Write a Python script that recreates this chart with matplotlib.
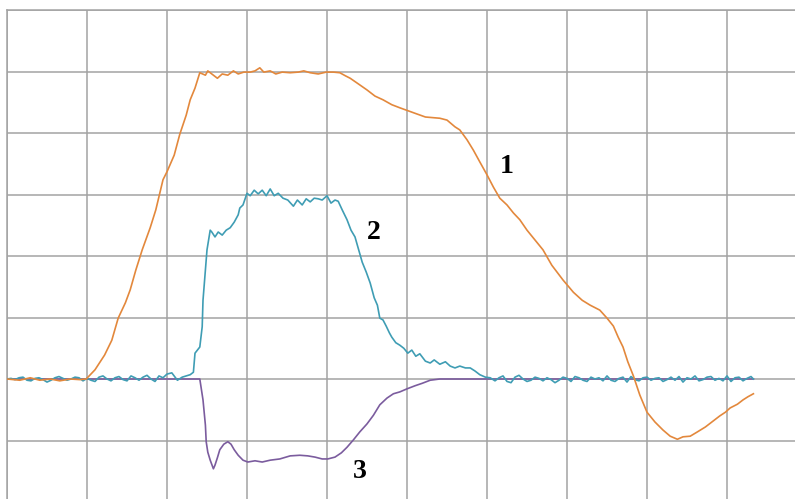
import matplotlib
matplotlib.use("Agg")
import matplotlib.pyplot as plt

# ---- data (grid units: x = time divisions, y = amplitude divisions) ----
x1 = [0.00, 0.16, 0.29, 0.41, 0.54, 0.66, 0.79, 0.91, 0.99, 1.10, 1.22, 1.31, 1.39, 1.48, 1.54,
      1.61, 1.69, 1.79, 1.86, 1.95, 2.00, 2.09, 2.16, 2.24, 2.29, 2.35, 2.41, 2.48, 2.51, 2.56,
      2.63, 2.69, 2.76, 2.83, 2.89, 2.96, 3.04, 3.10, 3.16, 3.21, 3.29, 3.36, 3.44, 3.54, 3.64,
      3.71, 3.79, 3.89, 3.99, 4.08, 4.16, 4.23, 4.29, 4.39, 4.50, 4.60, 4.70, 4.81, 4.91, 5.08,
      5.23, 5.41, 5.50, 5.60, 5.66, 5.75, 5.83, 5.91, 6.00, 6.08, 6.16, 6.25, 6.33, 6.41, 6.50,
      6.60, 6.70, 6.81, 6.95, 7.08, 7.19, 7.29, 7.41, 7.50, 7.58, 7.64, 7.70, 7.76, 7.83, 7.91,
      8.00, 8.10, 8.20, 8.29, 8.38, 8.45, 8.54, 8.63, 8.73, 8.83, 8.91, 8.98, 9.04, 9.13, 9.20,
      9.26, 9.33]
y1 = [0.00, -0.02, 0.02, -0.02, 0.00, -0.03, 0.00, -0.01, 0.00, 0.15, 0.39, 0.63, 0.99, 1.24, 1.45,
      1.77, 2.10, 2.46, 2.75, 3.24, 3.37, 3.64, 3.98, 4.29, 4.54, 4.73, 4.98, 4.94, 5.01, 4.96,
      4.89, 4.96, 4.94, 5.01, 4.96, 4.99, 4.99, 5.01, 5.06, 4.99, 5.01, 4.96, 4.99, 4.98, 4.99,
      5.01, 4.98, 4.96, 4.99, 4.99, 4.98, 4.93, 4.89, 4.80, 4.70, 4.60, 4.54, 4.46, 4.41, 4.33,
      4.26, 4.24, 4.21, 4.10, 4.05, 3.89, 3.72, 3.53, 3.32, 3.12, 2.94, 2.83, 2.70, 2.59, 2.42,
      2.26, 2.10, 1.85, 1.61, 1.41, 1.28, 1.20, 1.12, 0.99, 0.86, 0.68, 0.52, 0.28, 0.05, -0.26,
      -0.54, -0.70, -0.83, -0.93, -0.98, -0.94, -0.93, -0.86, -0.78, -0.68, -0.60, -0.54, -0.47, -0.41, -0.34,
      -0.29, -0.24]

x2 = [0.00, 0.05, 0.10, 0.15, 0.20, 0.25, 0.30, 0.35, 0.40, 0.45, 0.50, 0.55, 0.60, 0.65, 0.70,
      0.75, 0.80, 0.85, 0.90, 0.95, 1.00, 1.05, 1.10, 1.15, 1.20, 1.25, 1.30, 1.35, 1.40, 1.45,
      1.50, 1.55, 1.60, 1.65, 1.70, 1.75, 1.80, 1.85, 1.90, 1.95, 2.00, 2.06, 2.13, 2.19, 2.29,
      2.33, 2.35, 2.38, 2.41, 2.44, 2.45, 2.48, 2.50, 2.51, 2.54, 2.56, 2.60, 2.64, 2.69, 2.74,
      2.79, 2.84, 2.89, 2.91, 2.95, 3.00, 3.04, 3.09, 3.14, 3.19, 3.24, 3.29, 3.34, 3.39, 3.45,
      3.51, 3.58, 3.63, 3.69, 3.74, 3.79, 3.84, 3.89, 3.94, 4.00, 4.05, 4.10, 4.14, 4.19, 4.25,
      4.30, 4.35, 4.39, 4.44, 4.49, 4.54, 4.59, 4.63, 4.66, 4.70, 4.74, 4.78, 4.81, 4.86, 4.91,
      4.96, 5.01, 5.06, 5.11, 5.16, 5.23, 5.29, 5.34, 5.41, 5.48, 5.54, 5.60, 5.66, 5.73, 5.79,
      5.85, 5.91, 5.98, 6.04, 6.10, 6.15, 6.20, 6.25, 6.30, 6.35, 6.40, 6.45, 6.50, 6.55, 6.60,
      6.65, 6.70, 6.75, 6.80, 6.85, 6.90, 6.95, 7.00, 7.05, 7.10, 7.15, 7.20, 7.25, 7.30, 7.35,
      7.40, 7.45, 7.50, 7.55, 7.60, 7.65, 7.70, 7.75, 7.80, 7.85, 7.90, 7.95, 8.00, 8.05, 8.10,
      8.15, 8.20, 8.25, 8.30, 8.35, 8.40, 8.45, 8.50, 8.55, 8.60, 8.65, 8.70, 8.75, 8.80, 8.85,
      8.90, 8.95, 9.00, 9.05, 9.10, 9.15, 9.20, 9.25, 9.30, 9.33]
y2 = [0.00, 0.01, -0.01, 0.02, 0.03, -0.02, -0.03, 0.01, 0.02, -0.01, -0.05, -0.02, 0.02, 0.04, 0.01,
      -0.02, 0.00, 0.03, 0.02, -0.03, 0.01, -0.02, -0.04, 0.03, 0.05, 0.00, -0.03, 0.02, 0.04, -0.01,
      -0.03, 0.05, 0.02, -0.02, 0.03, 0.06, 0.00, -0.04, 0.05, 0.02, 0.08, 0.10, -0.02, 0.03, 0.07,
      0.11, 0.42, 0.47, 0.52, 0.85, 1.28, 1.77, 2.10, 2.18, 2.42, 2.39, 2.31, 2.39, 2.34, 2.42,
      2.46, 2.55, 2.67, 2.78, 2.83, 3.02, 2.98, 3.07, 3.01, 3.07, 2.98, 3.09, 2.98, 3.02, 2.94,
      2.91, 2.81, 2.91, 2.83, 2.93, 2.88, 2.94, 2.93, 2.91, 2.98, 2.86, 2.91, 2.89, 2.75, 2.59,
      2.42, 2.31, 2.13, 1.90, 1.74, 1.56, 1.32, 1.20, 0.99, 0.96, 0.86, 0.75, 0.68, 0.59, 0.55,
      0.50, 0.42, 0.47, 0.37, 0.41, 0.29, 0.26, 0.31, 0.24, 0.28, 0.21, 0.18, 0.21, 0.18, 0.18,
      0.13, 0.07, 0.03, 0.02, -0.03, 0.02, 0.05, -0.04, -0.06, 0.03, 0.06, 0.00, -0.04, -0.02, 0.03,
      0.01, -0.03, 0.02, -0.01, -0.06, -0.02, 0.03, 0.01, -0.04, 0.04, 0.02, -0.02, -0.04, 0.03, 0.00,
      0.02, -0.03, 0.05, -0.02, -0.04, 0.01, 0.03, -0.05, 0.04, -0.01, -0.03, 0.02, 0.03, -0.02, 0.01,
      0.02, -0.04, -0.01, 0.03, -0.02, 0.04, -0.05, 0.02, 0.00, 0.05, -0.03, -0.01, 0.03, 0.04, -0.02,
      0.01, -0.03, 0.05, -0.04, 0.02, 0.03, -0.03, 0.01, 0.04, 0.00]

x3 = [0.00, 1.00, 2.00, 2.41, 2.45, 2.48, 2.49, 2.51, 2.54, 2.58, 2.60, 2.63, 2.66, 2.71, 2.76,
      2.80, 2.84, 2.89, 2.95, 3.01, 3.10, 3.19, 3.29, 3.41, 3.54, 3.66, 3.76, 3.85, 3.94, 4.01,
      4.10, 4.18, 4.25, 4.33, 4.41, 4.50, 4.58, 4.66, 4.75, 4.83, 4.91, 5.00, 5.10, 5.19, 5.29,
      5.41, 9.33]
y3 = [0.00, 0.00, 0.00, 0.00, -0.34, -0.75, -1.02, -1.19, -1.32, -1.46, -1.40, -1.28, -1.15, -1.06, -1.02,
      -1.06, -1.15, -1.24, -1.32, -1.35, -1.33, -1.35, -1.32, -1.30, -1.25, -1.24, -1.25, -1.27, -1.30, -1.30,
      -1.27, -1.20, -1.11, -0.99, -0.86, -0.73, -0.59, -0.42, -0.31, -0.24, -0.21, -0.16, -0.11, -0.07, -0.02,
      0.00, 0.00]

labels = ["1", "2", "3"]
label_x = [6.25, 4.58, 4.41]
label_y = [3.45, 2.39, -1.51]

# ---- figure ----
W, H = 795, 499
fig = plt.figure(figsize=(W / 100, H / 100), dpi=100)
ax = fig.add_axes([7 / W, 0, 788 / W, 489 / H])
ax.set_xlim(0, 788 / 80)
ax.set_ylim(-120 / 61.5, 6.0)

grid_color = "#a3a3a3"
ax.set_xticks(range(0, 10))
ax.set_yticks(range(-1, 7))
ax.tick_params(length=0, labelbottom=False, labelleft=False)
ax.grid(True, color=grid_color, linewidth=1.1)
ax.set_axisbelow(True)
for side in ["right", "bottom"]:
    ax.spines[side].set_visible(False)
for side in ["left", "top"]:
    ax.spines[side].set_color(grid_color)
    ax.spines[side].set_linewidth(1.1)

lw = 1.2
ax.plot(x3, y3, color="#7b5c9e", lw=lw, zorder=3)
ax.plot(x2, y2, color="#3f9db4", lw=lw, zorder=4)
ax.plot(x1, y1, color="#e3883c", lw=lw, zorder=5)

for t, lx, ly in zip(labels, label_x, label_y):
    ax.text(lx, ly, t, fontsize=20, fontweight="bold", family="Liberation Serif",
            ha="center", va="center", color="black", zorder=6)

fig.savefig("out.png", dpi=100)
